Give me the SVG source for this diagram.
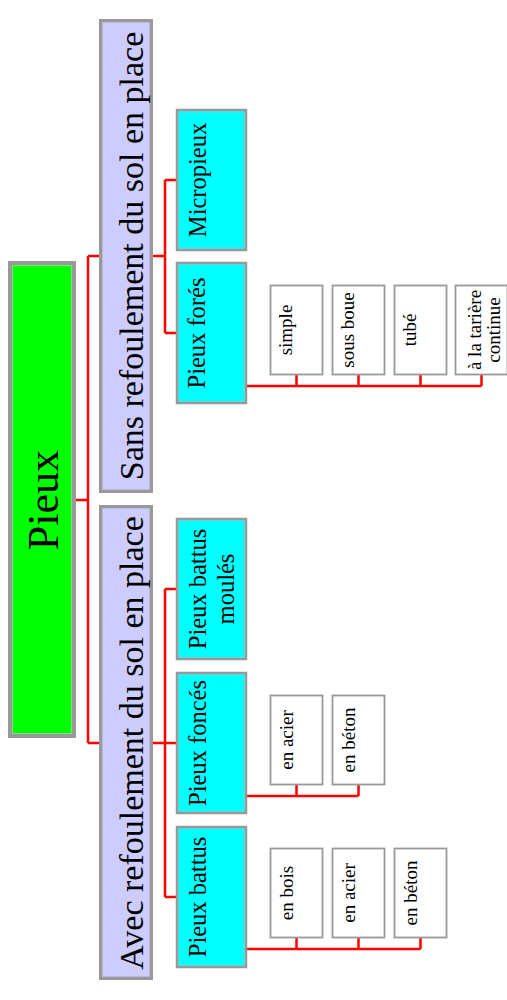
<svg xmlns="http://www.w3.org/2000/svg" width="507" height="1000" viewBox="0 0 507 1000">
<style>
text{font-family:"Liberation Serif","Times New Roman",serif;fill:#000;text-anchor:middle}
.root{fill:#00ff00;stroke:#999;stroke-width:4}
.rootin{fill:none;stroke:#7fe07f;stroke-width:1}
.l1{fill:#ccccff;stroke:#999;stroke-width:3}
.l1in{fill:none;stroke:#b8b8e0;stroke-width:1}
.l2{fill:#00ffff;stroke:#999;stroke-width:2.5}
.l2in{fill:none;stroke:#66d9d9;stroke-width:1}
.l3{fill:#fff;stroke:#999;stroke-width:1.8}
.t0{font-size:44px}
.t1{font-size:34px}
.t2{font-size:24.5px}
.t3{font-size:19px}
.c{fill:none;stroke:#ff0000;stroke-width:2.5}
</style>
<g id="connectors">
<path class="c" d="M76,500H88M88,256V743M88,256H100M88,743H100"/>
<path class="c" d="M153,256H165M165,180V333M165,180H177M165,333H177"/>
<path class="c" d="M153,743H165M165,589V897M165,589H177M165,743H177M165,897H177"/>
<path class="c" d="M246,386H481.5M296.5,375V386M358.5,375V386M420.5,375V386M481.5,375V386"/>
<path class="c" d="M246,796H358.5M296.5,785V796M358.5,785V796"/>
<path class="c" d="M246,949H420.5M296.5,938V949M358.5,938V949M420.5,938V949"/>
</g>
<g id="root">
<rect class="root" x="10" y="263" width="64" height="473"/>
<rect class="rootin" x="12.5" y="265.5" width="59" height="468"/>
<text class="t0" x="58" y="500" transform="rotate(-90 58 500)">Pieux</text>
</g>
<g id="sans">
<rect class="l1" x="100.5" y="20.5" width="51" height="471"/>
<rect class="l1in" x="102.5" y="22.5" width="47" height="467"/>
<text class="t1" x="143" y="256" transform="rotate(-90 143 256)">Sans refoulement du sol en place</text>
</g>
<g id="avec">
<rect class="l1" x="100.5" y="506.5" width="51" height="472"/>
<rect class="l1in" x="102.5" y="508.5" width="47" height="468"/>
<text class="t1" x="143" y="743" transform="rotate(-90 143 743)">Avec refoulement du sol en place</text>
</g>
<g id="micropieux">
<rect class="l2" x="177" y="110" width="69" height="140"/>
<rect class="l2in" x="179" y="112" width="65" height="136"/>
<text class="t2" x="206" y="180" transform="rotate(-90 206 180)">Micropieux</text>
</g>
<g id="fores">
<rect class="l2" x="177" y="263" width="69" height="140"/>
<rect class="l2in" x="179" y="265" width="65" height="136"/>
<text class="t2" x="205" y="333" transform="rotate(-90 205 333)">Pieux forés</text>
</g>
<g id="moules">
<rect class="l2" x="177" y="519" width="69" height="140"/>
<rect class="l2in" x="179" y="521" width="65" height="136"/>
<text class="t2" x="206" y="589" transform="rotate(-90 206 589)">Pieux battus</text>
<text class="t2" x="234" y="589" transform="rotate(-90 234 589)">moulés</text>
</g>
<g id="fonces">
<rect class="l2" x="177" y="673" width="69" height="140"/>
<rect class="l2in" x="179" y="675" width="65" height="136"/>
<text class="t2" x="206" y="743" transform="rotate(-90 206 743)">Pieux foncés</text>
</g>
<g id="battus">
<rect class="l2" x="177" y="827" width="69" height="140"/>
<rect class="l2in" x="179" y="829" width="65" height="136"/>
<text class="t2" x="206" y="897" transform="rotate(-90 206 897)">Pieux battus</text>
</g>
<g id="simple">
<rect class="l3" x="270.5" y="285.5" width="52" height="89"/>
<text class="t3" x="292" y="330" transform="rotate(-90 292 330)">simple</text>
</g>
<g id="sousboue">
<rect class="l3" x="332.5" y="285.5" width="52" height="89"/>
<text class="t3" x="354" y="330" transform="rotate(-90 354 330)">sous boue</text>
</g>
<g id="tube">
<rect class="l3" x="394.5" y="285.5" width="52" height="89"/>
<text class="t3" x="416" y="330" transform="rotate(-90 416 330)">tubé</text>
</g>
<g id="tariere">
<rect class="l3" x="455.5" y="285.5" width="52" height="89"/>
<text class="t3" x="481" y="330" transform="rotate(-90 481 330)">à la tarière</text>
<text class="t3" x="500" y="330" transform="rotate(-90 500 330)">continue</text>
</g>
<g id="fonces-acier">
<rect class="l3" x="270.5" y="695.5" width="52" height="89"/>
<text class="t3" x="293" y="740" transform="rotate(-90 293 740)">en acier</text>
</g>
<g id="fonces-beton">
<rect class="l3" x="332.5" y="695.5" width="52" height="89"/>
<text class="t3" x="355" y="740" transform="rotate(-90 355 740)">en béton</text>
</g>
<g id="battus-bois">
<rect class="l3" x="270.5" y="848.5" width="52" height="89"/>
<text class="t3" x="293" y="893" transform="rotate(-90 293 893)">en bois</text>
</g>
<g id="battus-acier">
<rect class="l3" x="332.5" y="848.5" width="52" height="89"/>
<text class="t3" x="355" y="893" transform="rotate(-90 355 893)">en acier</text>
</g>
<g id="battus-beton">
<rect class="l3" x="394.5" y="848.5" width="52" height="89"/>
<text class="t3" x="417" y="893" transform="rotate(-90 417 893)">en béton</text>
</g>
</svg>
